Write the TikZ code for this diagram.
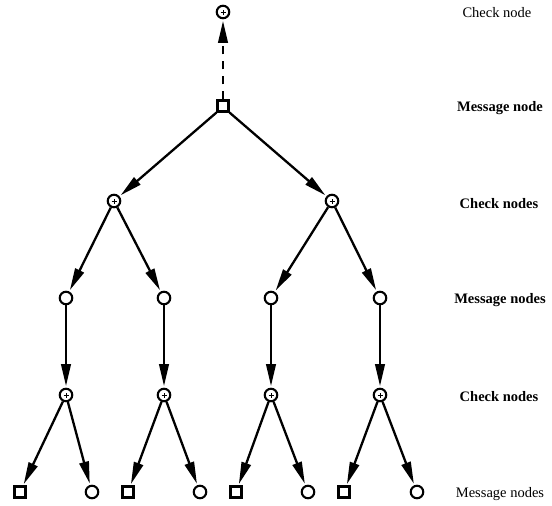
\documentclass[tikz,border=0pt]{standalone}
\usepackage{fontspec}
\setmainfont{Liberation Serif}
\usetikzlibrary{arrows.meta}
\begin{document}
\begin{tikzpicture}[x=1pt,y=-1pt,
  chk/.style={circle,draw,line width=2.1pt,minimum size=12.5pt,inner sep=0pt,
    path picture={\draw[line width=0.9pt]
      ([xshift=-2.5pt]path picture bounding box.center) -- ([xshift=2.5pt]path picture bounding box.center)
      ([yshift=-2.5pt]path picture bounding box.center) -- ([yshift=2.5pt]path picture bounding box.center);}},
  msg/.style={circle,draw,line width=2.1pt,minimum size=12.5pt,inner sep=0pt},
  sq/.style={rectangle,draw,line width=2.1pt,minimum size=11pt,inner sep=0pt},
  edge/.style={line width=2.3pt,-{Triangle[length=22pt,width=9.5pt]},shorten >=1.5pt},
  lbl/.style={font=\fontsize{14.5}{16}\selectfont,anchor=center}
]
\useasboundingbox (0,0) rectangle (552,506);

% root and its message node
\node[chk] (c0) at (223,12) {};
\node[sq]  (m0) at (223,106) {};

% first check level
\node[chk] (c1) at (114,201) {};
\node[chk] (c2) at (332,201) {};

% message level
\node[msg] (m1) at (66,298) {};
\node[msg] (m2) at (164,298) {};
\node[msg] (m3) at (271,298) {};
\node[msg] (m4) at (380,298) {};

% second check level
\node[chk] (c3) at (66,395) {};
\node[chk] (c4) at (164,395) {};
\node[chk] (c5) at (271,395) {};
\node[chk] (c6) at (380,395) {};

% leaves
\node[sq]  (l1) at (20,492) {};
\node[msg] (l2) at (92,492) {};
\node[sq]  (l3) at (128,492) {};
\node[msg] (l4) at (200,492) {};
\node[sq]  (l5) at (236,492) {};
\node[msg] (l6) at (308,492) {};
\node[sq]  (l7) at (344,492) {};
\node[msg] (l8) at (417,492) {};

% connectors
\draw[edge,dash pattern=on 8pt off 7pt] (m0) -- (c0);
\draw[edge] (m0.south west) -- (c1);
\draw[edge] (m0.south east) -- (c2);
\draw[edge] (c1) -- (m1);
\draw[edge] (c1) -- (m2);
\draw[edge] (c2) -- (m3);
\draw[edge] (c2) -- (m4);
\draw[edge] (m1) -- (c3);
\draw[edge] (m2) -- (c4);
\draw[edge] (m3) -- (c5);
\draw[edge] (m4) -- (c6);
\draw[edge] (c3) -- (l1);
\draw[edge] (c3) -- (l2);
\draw[edge] (c4) -- (l3);
\draw[edge] (c4) -- (l4);
\draw[edge] (c5) -- (l5);
\draw[edge] (c5) -- (l6);
\draw[edge] (c6) -- (l7);
\draw[edge] (c6) -- (l8);

% level captions
\node[lbl] (t0) at (497,13) {Check node};
\node[lbl] (t1) at (500,108) {\bfseries Message node};
\node[lbl] (t2) at (499,204) {\bfseries Check nodes};
\node[lbl] (t3) at (500,300) {\bfseries Message nodes};
\node[lbl] (t4) at (499,397) {\bfseries Check nodes};
\node[lbl] (t5) at (500,494) {Message nodes};
\end{tikzpicture}
\end{document}
